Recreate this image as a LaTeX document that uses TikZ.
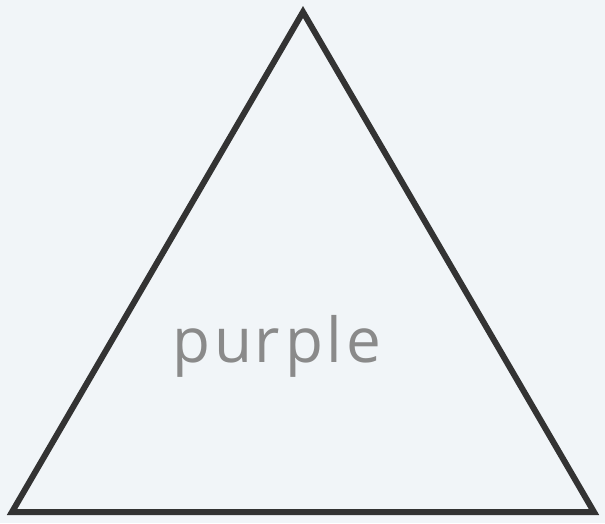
\documentclass[tikz,border=0pt]{standalone}
\usepackage{fontspec}
\setsansfont{Open Sans}
\definecolor{paper}{HTML}{F1F5F8}
\definecolor{ink}{HTML}{333333}
\definecolor{pencil}{HTML}{8A8A8A}
\tikzset{
  edge/.style={draw=ink, line width=6pt, line join=miter},
  handtext/.style={text=pencil, font=\sffamily\fontsize{62}{62}\selectfont, inner sep=0pt, anchor=base}
}
\begin{document}
\begin{tikzpicture}[x=1pt,y=1pt]
\fill[paper] (0,0) rectangle (605,523);
\useasboundingbox (0,0) rectangle (605,523);
\coordinate (top) at (303,511);
\coordinate (bl) at (12,11);
\coordinate (br) at (594,11);
\draw[edge] (top) -- (bl) -- (br) -- cycle;
\node[handtext] (label) at (277,161) {p\kern4pt u\kern2pt r\kern6pt p\kern3pt l\kern4pt e};
\end{tikzpicture}
\end{document}
